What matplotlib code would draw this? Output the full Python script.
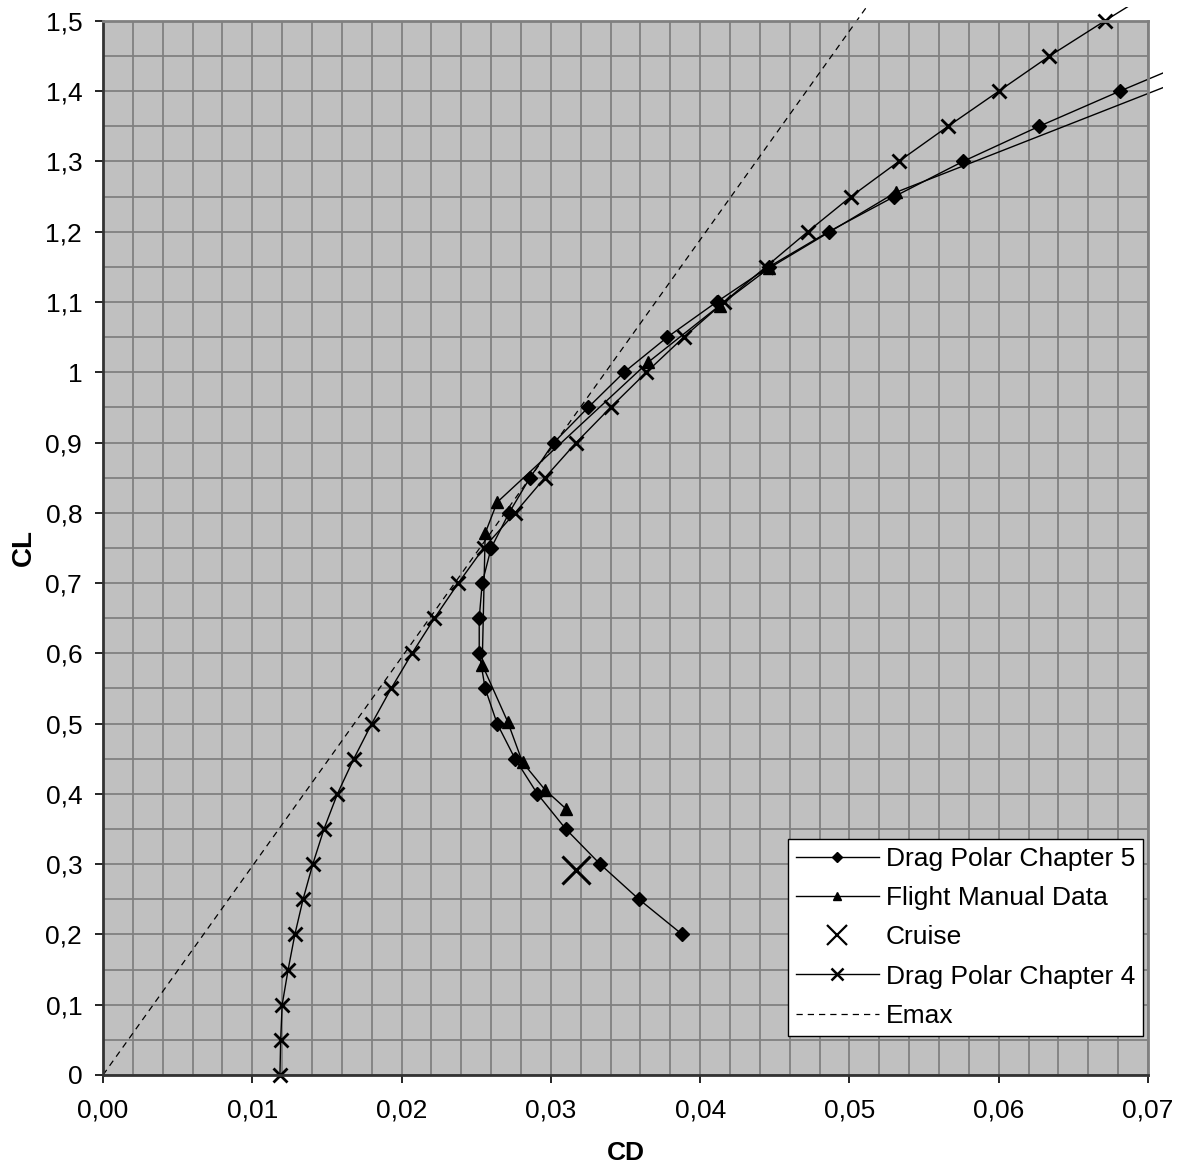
import numpy as np
import matplotlib.pyplot as plt
from matplotlib.ticker import MultipleLocator, FuncFormatter
from matplotlib.transforms import Bbox, TransformedBbox

plt.rcParams['font.family'] = ['Liberation Sans', 'DejaVu Sans']

# Drag Polar Chapter 4 (x markers)
cl_ch4 = [0.00, 0.05, 0.10, 0.15, 0.20, 0.25, 0.30, 0.35, 0.40, 0.45, 0.50,
          0.55, 0.60, 0.65, 0.70, 0.75, 0.80, 0.85, 0.90, 0.95, 1.00, 1.05,
          1.10, 1.15, 1.20, 1.25, 1.30, 1.35, 1.40, 1.45, 1.50, 1.55]
cd_ch4 = [0.01185, 0.0119, 0.0120, 0.0124, 0.01285, 0.0134, 0.01405, 0.0148,
          0.0157, 0.0168, 0.0180, 0.0193, 0.0207, 0.0222, 0.0238, 0.0255,
          0.0276, 0.0296, 0.0317, 0.0340, 0.0364, 0.0389, 0.0416, 0.0444,
          0.0472, 0.0501, 0.0533, 0.0566, 0.0600, 0.0634, 0.0671, 0.0709]

# Drag Polar Chapter 5 (diamonds)
cl_ch5 = [0.20, 0.25, 0.30, 0.35, 0.40, 0.45, 0.50, 0.55, 0.60, 0.65, 0.70,
          0.75, 0.80, 0.85, 0.90, 0.95, 1.00, 1.05, 1.10, 1.15, 1.20, 1.25,
          1.30, 1.35, 1.40, 1.45]
cd_ch5 = [0.0388, 0.0359, 0.0333, 0.0310, 0.0291, 0.0276, 0.0264, 0.0256,
          0.0252, 0.0252, 0.0254, 0.0260, 0.0272, 0.0286, 0.0302, 0.0325,
          0.0349, 0.0378, 0.0411, 0.0446, 0.0486, 0.0530, 0.0576, 0.0627,
          0.0681, 0.0737]

# Flight Manual Data (triangles)
cl_fm = [0.379, 0.406, 0.445, 0.503, 0.584, 0.771, 0.815, 1.014, 1.095,
         1.148, 1.256, 1.48]
cd_fm = [0.0310, 0.0296, 0.0281, 0.0271, 0.0254, 0.0256, 0.0264, 0.0365,
         0.0413, 0.0446, 0.0531, 0.0800]

# Cruise point
cd_cruise = [0.0317]
cl_cruise = [0.291]

# Emax line
cd_emax = [0.0, 0.07]
cl_emax = [0.0, 2.08]

FS = 19

fig = plt.figure(figsize=(11.83, 11.64), dpi=100)
ax = fig.add_axes([0.0871, 0.0765, 0.8833, 0.9055])
ax.set_facecolor('#C0C0C0')

lw = 1.0
lines = []
lines += ax.plot(cd_ch5, cl_ch5, color='black', lw=lw, marker='D', ms=7,
                 label='Drag Polar Chapter 5')
lines += ax.plot(cd_fm, cl_fm, color='black', lw=lw, marker='^', ms=8,
                 label='Flight Manual Data')
ax.plot(cd_cruise, cl_cruise, ls='none', color='black', marker='x', ms=20,
        mew=2.2, label='Cruise')
lines += ax.plot(cd_ch4, cl_ch4, color='black', lw=lw, marker='x', ms=10, mew=2,
                 label='Drag Polar Chapter 4')
lines += ax.plot(cd_emax, cl_emax, color='black', lw=0.9, ls=(0, (5, 4)),
                 label='Emax')

# lines run a little past the plot area, like the original
clip = TransformedBbox(Bbox.from_extents(0, 0, 1163 / 1183, 1157 / 1164),
                       fig.transFigure)
for ln in lines:
    ln.set_clip_box(clip)

ax.set_xlim(0, 0.07)
ax.set_ylim(0, 1.5)
ax.xaxis.set_major_locator(MultipleLocator(0.01))
ax.xaxis.set_minor_locator(MultipleLocator(0.002))
ax.yaxis.set_major_locator(MultipleLocator(0.1))
ax.yaxis.set_minor_locator(MultipleLocator(0.05))
ax.xaxis.set_major_formatter(FuncFormatter(lambda v, p: f"{v:.2f}".replace('.', ',')))
ax.yaxis.set_major_formatter(FuncFormatter(lambda v, p: f"{round(v, 2):g}".replace('.', ',')))

ax.grid(True, which='both', color='#808080', lw=1.3)
ax.set_axisbelow(True)
ax.tick_params(which='major', direction='out', length=6, width=1.2,
               labelsize=FS)
ax.tick_params(axis='x', pad=11)
ax.tick_params(axis='y', pad=9)
ax.tick_params(which='minor', length=0)

for s in ['top', 'right']:
    ax.spines[s].set_color('#808080')
    ax.spines[s].set_linewidth(2)
for s in ['left', 'bottom']:
    ax.spines[s].set_color('#333333')
    ax.spines[s].set_linewidth(2)

ax.set_xlabel('CD', fontsize=FS, fontweight='bold', labelpad=13)
ax.set_ylabel('CL', fontsize=FS + 1, fontweight='bold', labelpad=6)

leg = ax.legend(loc='lower right', bbox_to_anchor=(0.995, 0.037),
                fontsize=FS, frameon=True, fancybox=False, framealpha=1,
                edgecolor='black', handlelength=3.15, borderpad=0.3,
                labelspacing=0.58, handletextpad=0.25, borderaxespad=0)
leg.get_frame().set_linewidth(1.0)
for h in leg.legend_handles:
    if h.get_label() == 'Cruise':
        h.set_markersize(14)
        h.set_markeredgewidth(1.6)
    elif h.get_label() == 'Drag Polar Chapter 4':
        h.set_markersize(8)
        h.set_markeredgewidth(1.8)
    elif h.get_label() == 'Drag Polar Chapter 5':
        h.set_markersize(5)
    elif h.get_label() == 'Flight Manual Data':
        h.set_markersize(6)

fig.savefig('out.png', dpi=100, facecolor='white')
